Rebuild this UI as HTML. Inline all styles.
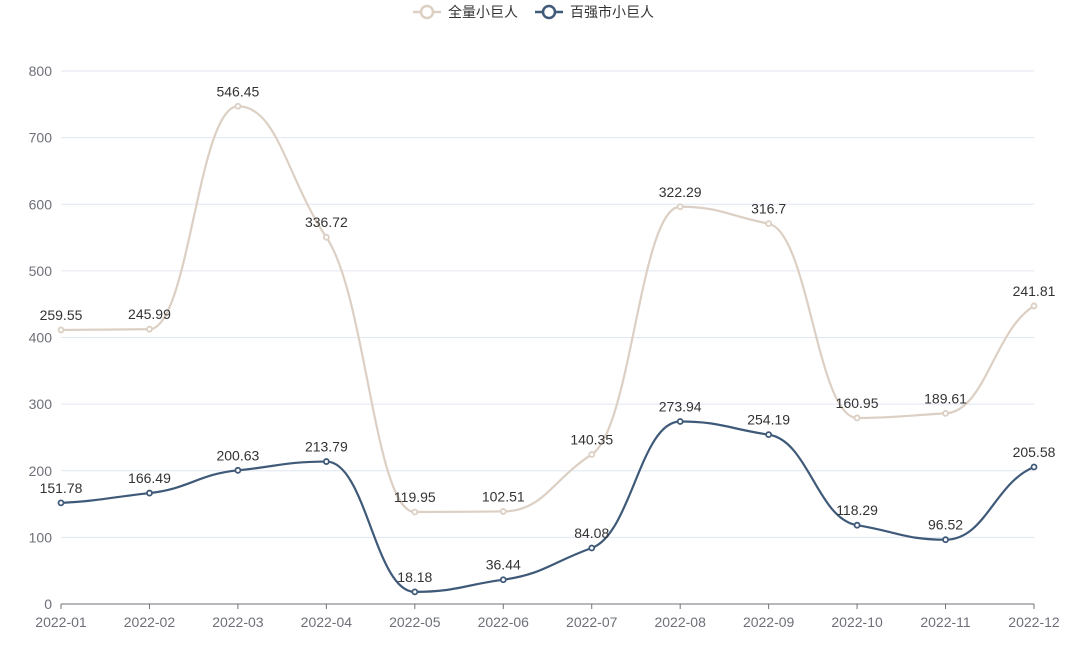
<!DOCTYPE html>
<html><head><meta charset="utf-8"><style>
body{margin:0;background:#fff;}
svg text{font-family:"Liberation Sans","Noto Sans CJK SC",sans-serif;}
</style></head><body>
<svg id="s" width="1077" height="643" xmlns="http://www.w3.org/2000/svg">
<g id="grid"></g>
<g id="legend">
<line x1="413" y1="12" x2="441" y2="12" stroke="#dccfc3" stroke-width="2.5"/>
<circle cx="427" cy="12" r="6" fill="#fff" stroke="#dccfc3" stroke-width="2.5"/>
<text x="448" y="17" font-size="14" fill="#333">全量小巨人</text>
<line x1="535" y1="12" x2="563" y2="12" stroke="#3f5a78" stroke-width="2.5"/>
<circle cx="549" cy="12" r="6" fill="#fff" stroke="#3f5a78" stroke-width="2.5"/>
<text x="570" y="17" font-size="14" fill="#333">百强市小巨人</text>
</g>
<g id="plot"></g>
</svg>
<script>
(function(){
var NS="http://www.w3.org/2000/svg";
function el(p,t,a,txt){var e=document.createElementNS(NS,t);for(var k in a)e.setAttribute(k,a[k]);if(txt!=null)e.textContent=txt;p.appendChild(e);return e;}
var g=document.getElementById('grid'),pl=document.getElementById('plot');
function Y(v){return 604-v*0.66625;}
var X0=61,DX=(1034-61)/11;
for(var v=0;v<=800;v+=100){
 if(v>0)el(g,'line',{x1:61,x2:1034,y1:Y(v),y2:Y(v),stroke:'#e0e6f1','stroke-width':1});
 el(g,'text',{x:52,y:Y(v)+5,'text-anchor':'end','font-size':14,fill:'#6e7079'},v);
}
el(g,'line',{x1:61,x2:1034,y1:604,y2:604,stroke:'#6e7079','stroke-width':1});
for(var i=0;i<12;i++){var m='2022-'+(i<9?'0':'')+(i+1);
 var x=X0+i*DX;el(g,'line',{x1:x,x2:x,y1:604,y2:609,stroke:'#6e7079'});
 el(g,'text',{x:x,y:627,'text-anchor':'middle','font-size':14,fill:'#6e7079'},m);}
var b=[151.78,166.49,200.63,213.79,18.18,36.44,84.08,273.94,254.19,118.29,96.52,205.58];
var a=[259.55,245.99,546.45,336.72,119.95,102.51,140.35,322.29,316.7,160.95,189.61,241.81];
var sums=b.map(function(v,i){return v+a[i];});
function path(vals){
 var p=vals.map(function(v,i){return [X0+i*DX,Y(v)];});
 var n=p.length,sl=[];
 for(var i=0;i<n;i++){
  if(i==0||i==n-1){sl.push(0);continue;}
  var d1=p[i][1]-p[i-1][1],d2=p[i+1][1]-p[i][1];
  if(d1*d2<=0)sl.push(0);else sl.push((d1+d2)/2/DX*(Math.min(Math.abs(d1),Math.abs(d2))*2/(Math.abs(d1)+Math.abs(d2))));
 }
 sl[0]=(p[1][1]-p[0][1])/DX*0.5;sl[n-1]=(p[n-1][1]-p[n-2][1])/DX*0.5;
 var d='M'+p[0][0]+','+p[0][1],c=DX*0.45;
 for(var i=0;i<n-1;i++){
  d+=' C'+(p[i][0]+c)+','+(p[i][1]+sl[i]*c)+' '+(p[i+1][0]-c)+','+(p[i+1][1]-sl[i+1]*c)+' '+p[i+1][0]+','+p[i+1][1];
 }
 return {d:d,p:p};
}
function series(vals,labels,col){
 var r=path(vals);
 el(pl,'path',{d:r.d,fill:'none',stroke:col,'stroke-width':2.2});
 r.p.forEach(function(q,i){
  el(pl,'circle',{cx:q[0],cy:q[1],r:2.5,fill:'#fff',stroke:col,'stroke-width':1.8});
  el(pl,'text',{x:q[0],y:q[1]-10,'text-anchor':'middle','font-size':14,fill:'#333'},labels[i]);
 });
}
series(sums,a,'#dccfc3');
series(b,b,'#3f5a78');
})();
</script>
</body></html>
